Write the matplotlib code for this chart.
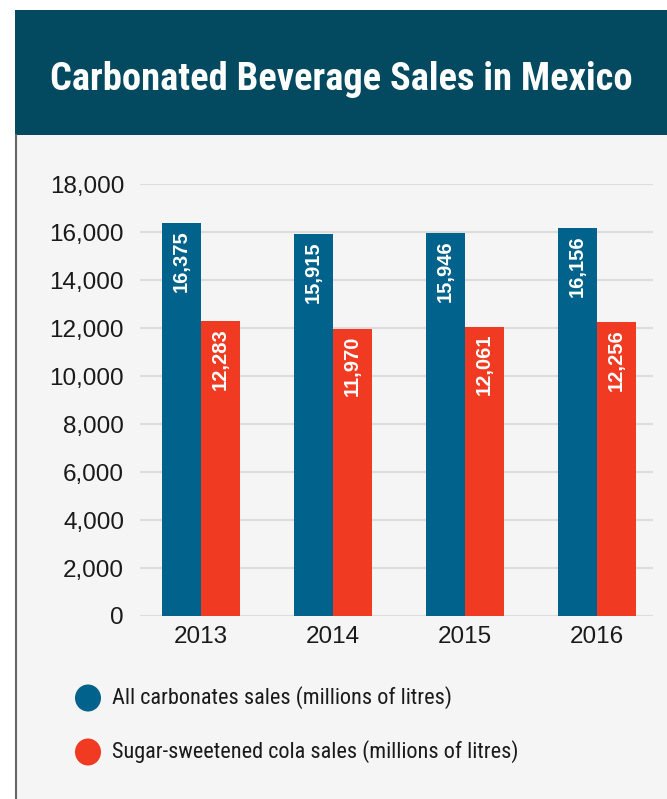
import matplotlib.pyplot as plt
from matplotlib.patches import Rectangle, Ellipse
import numpy as np

years = ['2013', '2014', '2015', '2016']
all_carbonates = [16375, 15915, 15946, 16156]
sugar_cola = [12283, 11970, 12061, 12256]
yticks = [0, 2000, 4000, 6000, 8000, 10000, 12000, 14000, 16000, 18000]
series_names = ['All carbonates sales (millions of litres)',
                'Sugar-sweetened cola sales (millions of litres)']

blue = '#01628b'
red = '#f13a22'
header = '#03495f'
panel = '#f5f5f5'

plt.rcParams['font.family'] = ['Liberation Sans', 'DejaVu Sans']

W, H = 667, 799
fig = plt.figure(figsize=(W / 100, H / 100), dpi=100)
fig.patch.set_facecolor('white')

def fx(px):
    return px / W

def fy(py):
    return 1 - py / H

# background panel and header band
fig.add_artist(Rectangle((fx(15), 0), 1, fy(135), transform=fig.transFigure,
                         facecolor=panel, edgecolor='none', zorder=0))
fig.add_artist(Rectangle((fx(15), fy(135)), 1, fy(10) - fy(135), transform=fig.transFigure,
                         facecolor=header, edgecolor='none', zorder=1))
fig.add_artist(plt.Line2D([fx(15.5), fx(15.5)], [0, fy(135)], transform=fig.transFigure,
                          color='#666666', lw=1.5, zorder=2))
fig.text(fx(341), fy(90), 'Carbonated Beverage Sales in Mexico', color='white',
         fontsize=27.7, fontweight='bold', family=['Roboto Condensed', 'DejaVu Sans'],
         ha='center', va='baseline')

ax = fig.add_axes([fx(140), fy(616), fx(653) - fx(140), fy(184) - fy(616)])
ax.set_facecolor('none')
x = np.arange(len(years))
bw = 39 / 132
b1 = ax.bar(x - bw / 2, all_carbonates, bw, color=blue, zorder=3)
b2 = ax.bar(x + bw / 2, sugar_cola, bw, color=red, zorder=3)

for bars, vals in ((b1, all_carbonates), (b2, sugar_cola)):
    for rect, v in zip(bars, vals):
        ax.annotate(f'{v:,}', (rect.get_x() + rect.get_width() / 2, v),
                    xytext=(0, -7), textcoords='offset pixels',
                    rotation=90, ha='center', va='top', color='white',
                    fontsize=14.5, fontweight='bold', zorder=4)

ax.set_xlim(-0.462, 3.424)
ax.set_ylim(0, 18000)
ax.set_yticks(yticks)
ax.set_yticklabels([f'{t:,}' for t in yticks])
ax.set_xticks(x)
ax.set_xticklabels(years)
ax.grid(axis='y', color='#dcdcdc', lw=1.5, zorder=0)
ax.set_axisbelow(True)
for s in ax.spines.values():
    s.set_visible(False)
ax.tick_params(axis='both', length=0, labelsize=17.5, labelcolor='#1a1a1a')
ax.tick_params(axis='y', pad=11.5)
ax.tick_params(axis='x', pad=7)

# legend
for name, col, py in ((series_names[0], blue, 698), (series_names[1], red, 752)):
    fig.add_artist(Ellipse((fx(88), fy(py)), 26 / W, 27 / H, transform=fig.transFigure,
                           facecolor=col, edgecolor='none', zorder=3))
    fig.text(fx(112), fy(py), name, fontsize=16, color='#1a1a1a',
             family=['Roboto Condensed', 'DejaVu Sans'], ha='left', va='center')

fig.savefig('out.png', dpi=100)
